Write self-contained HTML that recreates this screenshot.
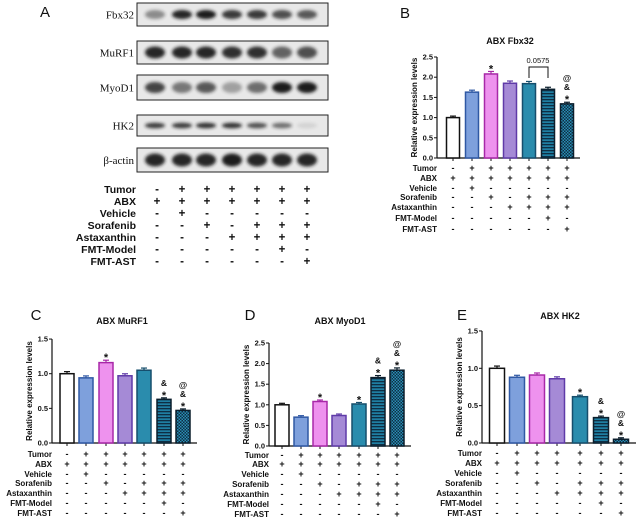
<!DOCTYPE html>
<html><head><meta charset="utf-8"><style>
html,body{margin:0;padding:0;background:#fff;}
svg{display:block;font-family:"Liberation Sans",Arial,sans-serif;}
</style></head><body>
<svg id="s" width="640" height="524" viewBox="0 0 640 524" xmlns="http://www.w3.org/2000/svg">
<defs>
<filter id="bl" x="-30%" y="-80%" width="160%" height="260%"><feGaussianBlur stdDeviation="1.6"/></filter>
<pattern id="str" width="4" height="3" patternUnits="userSpaceOnUse"><rect width="4" height="3" fill="#1f7fa3"/><rect width="4" height="1.3" fill="#0e2e44"/></pattern>
<pattern id="chk" width="3" height="3" patternUnits="userSpaceOnUse"><rect width="3" height="3" fill="#0e2e44"/><rect width="1.5" height="1.5" fill="#2a8fb5"/><rect x="1.5" y="1.5" width="1.5" height="1.5" fill="#2a8fb5"/></pattern>
</defs>
</svg>
<script>
const S=document.getElementById('s');let h='';
function T(x,y,t,o){o=o||{};h+=`<text x="${x}" y="${y}" font-size="${o.fs||8}" font-weight="${o.fw||'bold'}" text-anchor="${o.a||'middle'}" fill="${o.c||'#111'}" ${o.tr?`transform="${o.tr}"`:''} ${o.ff?`font-family="${o.ff}"`:''}>${t}</text>`;}
const signs=[['-','+','+','+','+','+','+'],['+','+','+','+','+','+','+'],['-','+','-','-','-','-','-'],['-','-','+','-','+','+','+'],['-','-','-','+','+','+','+'],['-','-','-','-','-','+','-'],['-','-','-','-','-','-','+']];
const rl=['Tumor','ABX','Vehicle','Sorafenib','Astaxanthin','FMT-Model','FMT-AST'];
function table(lx,xs,ys,fs){for(let r=0;r<7;r++){T(lx,ys[r]+3,rl[r],{a:'end',fs:fs});for(let c=0;c<7;c++)T(xs[c],ys[r]+3,signs[r][c],{fs:fs+1});}}
T(45,17,'A',{fs:15,fw:'normal'});
const lanes=[155,182,206,232,257,282,307];
const blots=[['Fbx32',3,26,[.45,.95,1,.85,.85,.75,.7],4.5],['MuRF1',41,64,[.95,.95,.95,.9,.9,.65,.75],6],['MyoD1',75,100,[.8,.55,.7,.35,.6,1,1],5.5],['HK2',115,136,[.85,.85,.9,.9,.75,.6,.1],2.8],['β-actin',148,172,[.95,.95,.95,1,.95,.95,.95],6.5]];
for(const [n,y1,y2,a,th] of blots){h+=`<rect x="137" y="${y1}" width="191" height="${y2-y1}" fill="#e8e8e8" stroke="#222" stroke-width="1"/>`;
T(134,(y1+y2)/2+4,n,{a:'end',fs:11,fw:'normal',ff:'Liberation Serif'});
const cy=(y1+y2)/2;for(let i=0;i<7;i++)h+=`<ellipse cx="${lanes[i]}" cy="${cy}" rx="10" ry="${th}" fill="#1a1a1a" opacity="${a[i]}" filter="url(#bl)"/>`;}
table(136,[157,182,207,232,257,282,307],[190,202,214,226,238,250,262],10.5);
const fills=[['#fff','#111'],['#7ea0dc','#2f58a4'],['#ee92ee','#a828a8'],['#a58ad6','#5f3aa8'],['#2a8cad','#164e6c'],['url(#str)','#0b1e2c'],['url(#chk)','#0b1e2c']];
function chart(o){const{ax,y0,sc,top,ticks,xs,vals,w,title,tx,ty,L,Lx,Ly,ys,ann}=o;
T(Lx,Ly,L,{fs:15,fw:'normal'});T(tx,ty,title,{fs:9});
h+=`<line x1="${ax}" y1="${y0}" x2="${ax}" y2="${y0-top*sc}" stroke="#111" stroke-width="1.2"/>`;
h+=`<line x1="${ax}" y1="${y0}" x2="${xs[6]+w}" y2="${y0}" stroke="#111" stroke-width="1.2"/>`;
for(const t of ticks){const y=y0-t*sc;h+=`<line x1="${ax-3}" y1="${y}" x2="${ax}" y2="${y}" stroke="#111"/>`;T(ax-4,y+2.5,t.toFixed(1),{a:'end',fs:7.5});}
xs.forEach(x=>h+=`<line x1="${x}" y1="${y0}" x2="${x}" y2="${y0+3}" stroke="#111"/>`);
T(ax-20,y0-top*sc/2,'Relative expression levels',{fs:8,tr:`rotate(-90 ${ax-20} ${y0-top*sc/2})`});
vals.forEach((v,i)=>{const x=xs[i],y=y0-v*sc,e=Math.max(1.5,v*0.03*sc);
h+=`<line x1="${x}" y1="${y}" x2="${x}" y2="${y-e}" stroke="${fills[i][1]}" stroke-width="1.2"/><line x1="${x-3}" y1="${y-e}" x2="${x+3}" y2="${y-e}" stroke="${fills[i][1]}" stroke-width="1.2"/>`;
h+=`<rect x="${x-w/2}" y="${y}" width="${w}" height="${v*sc}" fill="${fills[i][0]}" stroke="${fills[i][1]}" stroke-width="1.5"/>`;
const a=ann[i];if(a){let yy=y-e-3;for(let k=a.length-1;k>=0;k--){T(x,yy+(a[k]=='*'?4:0),a[k],{fs:a[k]=='*'?11:8.5});yy-=9;}}});
table(ax,xs,ys,8);}
chart({ax:437,y0:158,sc:40.4,top:2.5,ticks:[0,0.5,1,1.5,2,2.5],xs:[453,472,491,510,529,548,567],vals:[1,1.63,2.08,1.85,1.84,1.7,1.34],w:13,title:'ABX Fbx32',tx:510,ty:44,L:'B',Lx:405,Ly:18,ys:[168,178,188,197,207,218,229],ann:[0,0,'*',0,0,0,'@&*']});
h+=`<path d="M529 78 V67 H548 V78" fill="none" stroke="#111" stroke-width="1"/>`;T(538,63,'0.0575',{fs:7.5,fw:'normal'});
chart({ax:52,y0:443,sc:69.3,top:1.5,ticks:[0,0.5,1,1.5],xs:[67,86,106,125,144,164,183],vals:[1,0.94,1.16,0.97,1.05,0.63,0.47],w:14,title:'ABX MuRF1',tx:122,ty:324,L:'C',Lx:36,Ly:320,ys:[454,464,474,483,493,503,513],ann:[0,0,'*',0,0,'&*','@&*']});
chart({ax:269,y0:446,sc:41.2,top:2.5,ticks:[0,0.5,1,1.5,2,2.5],xs:[282,301,320,339,359,378,397],vals:[1,0.7,1.08,0.74,1.02,1.66,1.84],w:14,title:'ABX MyoD1',tx:340,ty:324,L:'D',Lx:250,Ly:320,ys:[455,464,474,484,494,504,514],ann:[0,0,'*',0,'*','&*','@&*']});
chart({ax:482,y0:443,sc:74.7,top:1.5,ticks:[0,0.5,1,1.5],xs:[497,517,537,557,580,601,621],vals:[1,0.88,0.91,0.86,0.62,0.34,0.05],w:15,title:'ABX HK2',tx:560,ty:319,L:'E',Lx:462,Ly:320,ys:[453,463,473,483,493,503,513],ann:[0,0,0,0,'*','&*','@&*']});
S.insertAdjacentHTML('beforeend',h);
</script>
</body></html>
